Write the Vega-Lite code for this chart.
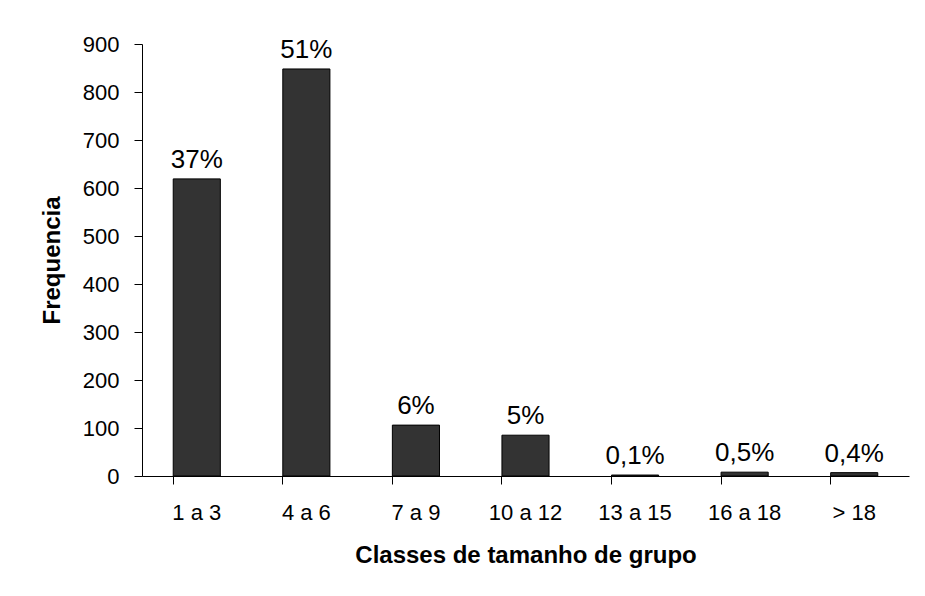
{
  "$schema": "https://vega.github.io/schema/vega-lite/v6.json",
  "width": 767,
  "height": 432,
  "autosize": {"type": "none"},
  "padding": {"left": 142, "top": 44, "right": 16, "bottom": 120},
  "background": "white",
  "config": {
    "view": {"stroke": null},
    "font": "Liberation Sans"
  },
  "data": {
    "values": [
      {"classe": "1 a 3", "freq": 619, "pct": "37%"},
      {"classe": "4 a 6", "freq": 848, "pct": "51%"},
      {"classe": "7 a 9", "freq": 106, "pct": "6%"},
      {"classe": "10 a 12", "freq": 85, "pct": "5%"},
      {"classe": "13 a 15", "freq": 2, "pct": "0,1%"},
      {"classe": "16 a 18", "freq": 8, "pct": "0,5%"},
      {"classe": "> 18", "freq": 7, "pct": "0,4%"}
    ]
  },
  "encoding": {
    "x": {
      "field": "classe",
      "type": "nominal",
      "sort": null,
      "scale": {"paddingInner": 0.57, "paddingOuter": 0.285},
      "axis": {
        "title": "Classes de tamanho de grupo",
        "labelAngle": 0,
        "bandPosition": 0,
        "domainColor": "black",
        "tickColor": "black",
        "tickSize": 8,
        "labelFont": "Liberation Sans",
        "labelFontSize": 22,
        "labelColor": "black",
        "labelPadding": 18,
        "titleFont": "Liberation Sans",
        "titleFontSize": 24,
        "titleFontWeight": "bold",
        "titleColor": "black",
        "titlePadding": 20
      }
    },
    "y": {
      "field": "freq",
      "type": "quantitative",
      "scale": {"domain": [0, 900]},
      "axis": {
        "title": "Frequencia",
        "values": [0, 100, 200, 300, 400, 500, 600, 700, 800, 900],
        "grid": false,
        "domainColor": "black",
        "tickColor": "black",
        "tickSize": 8,
        "labelFont": "Liberation Sans",
        "labelFontSize": 22,
        "labelColor": "black",
        "labelPadding": 15,
        "titleFont": "Liberation Sans",
        "titleFontSize": 24,
        "titleFontWeight": "bold",
        "titleColor": "black",
        "titlePadding": 18
      }
    }
  },
  "layer": [
    {
      "mark": {"type": "bar", "color": "#333333", "stroke": "black", "strokeWidth": 1}
    },
    {
      "mark": {"type": "text", "baseline": "alphabetic", "dy": -11, "fontSize": 26, "color": "black", "font": "Liberation Sans"},
      "encoding": {"text": {"field": "pct"}}
    }
  ]
}
